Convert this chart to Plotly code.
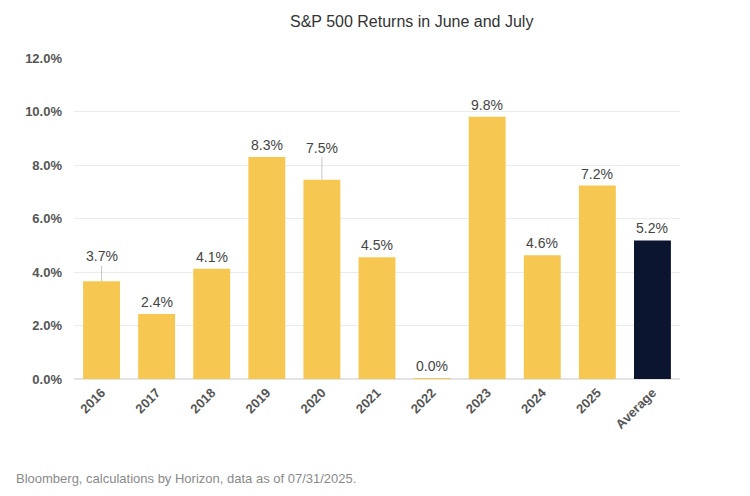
import plotly.graph_objects as go

categories = ["2016", "2017", "2018", "2019", "2020", "2021", "2022", "2023", "2024", "2025", "Average"]
returns = [3.65, 2.43, 4.12, 8.30, 7.45, 4.55, 0.02, 9.80, 4.63, 7.23, 5.18]
labels = ["3.7%", "2.4%", "4.1%", "8.3%", "7.5%", "4.5%", "0.0%", "9.8%", "4.6%", "7.2%", "5.2%"]
leader_offsets = {"2016": -25, "2020": -32}

yellow = "#F6C851"
navy = "#0B1530"
colors = [navy if c == "Average" else yellow for c in categories]

fig = go.Figure()
fig.add_trace(go.Bar(
    x=categories, y=returns, marker=dict(color=colors, line=dict(width=0)),
    hoverinfo="skip",
))

lab_font = dict(family="Liberation Sans, Arial", size=14, color="#444")
for i, (c, v, t) in enumerate(zip(categories, returns, labels)):
    if c in leader_offsets:
        fig.add_annotation(x=i, y=v, text=t, showarrow=True, arrowhead=0,
                           arrowwidth=1, arrowcolor="#c8c8c8", ax=0, ay=leader_offsets[c],
                           font=lab_font)
    else:
        fig.add_annotation(x=i, y=v, text=t, showarrow=False, yanchor="bottom",
                           yshift=2, font=lab_font)

fig.add_annotation(xref="paper", yref="paper", x=(411 - 74) / 606, y=1 + (58 - 22) / 321,
                   xanchor="center", yanchor="middle", showarrow=False,
                   text="S&P 500 Returns in June and July",
                   font=dict(family="Liberation Sans, Arial", size=16, color="#333"))

fig.add_annotation(xref="paper", yref="paper", x=-(74 - 14) / 606, y=-(478 - 379) / 321,
                   xanchor="left", yanchor="middle", showarrow=False,
                   text="Bloomberg, calculations by Horizon, data as of 07/31/2025.",
                   font=dict(family="Liberation Sans, Arial", size=13, color="#8a8a8a"))

fig.update_layout(
    width=750, height=496,
    margin=dict(l=74, r=70, t=58, b=117),
    paper_bgcolor="white", plot_bgcolor="white",
    showlegend=False,
    bargap=0.33,
    xaxis=dict(type="category", range=[-0.5, len(categories) - 0.5], tickangle=-45,
               tickfont=dict(family="Liberation Sans, Arial", size=13, color="#555", weight="bold"),
               showgrid=False, showline=True, linecolor="#e3e3e3", linewidth=1, ticks=""),
    yaxis=dict(range=[0, 12], dtick=2, ticksuffix="%", tickformat=".1f",
               tickfont=dict(family="Liberation Sans, Arial", size=13, color="#555", weight="bold"),
               showgrid=True, gridcolor="#ebebeb", gridwidth=1, zeroline=True, zerolinecolor="#e3e3e3",
               ticks="", ticklabelstandoff=11),
)

fig.write_html("out.html")
